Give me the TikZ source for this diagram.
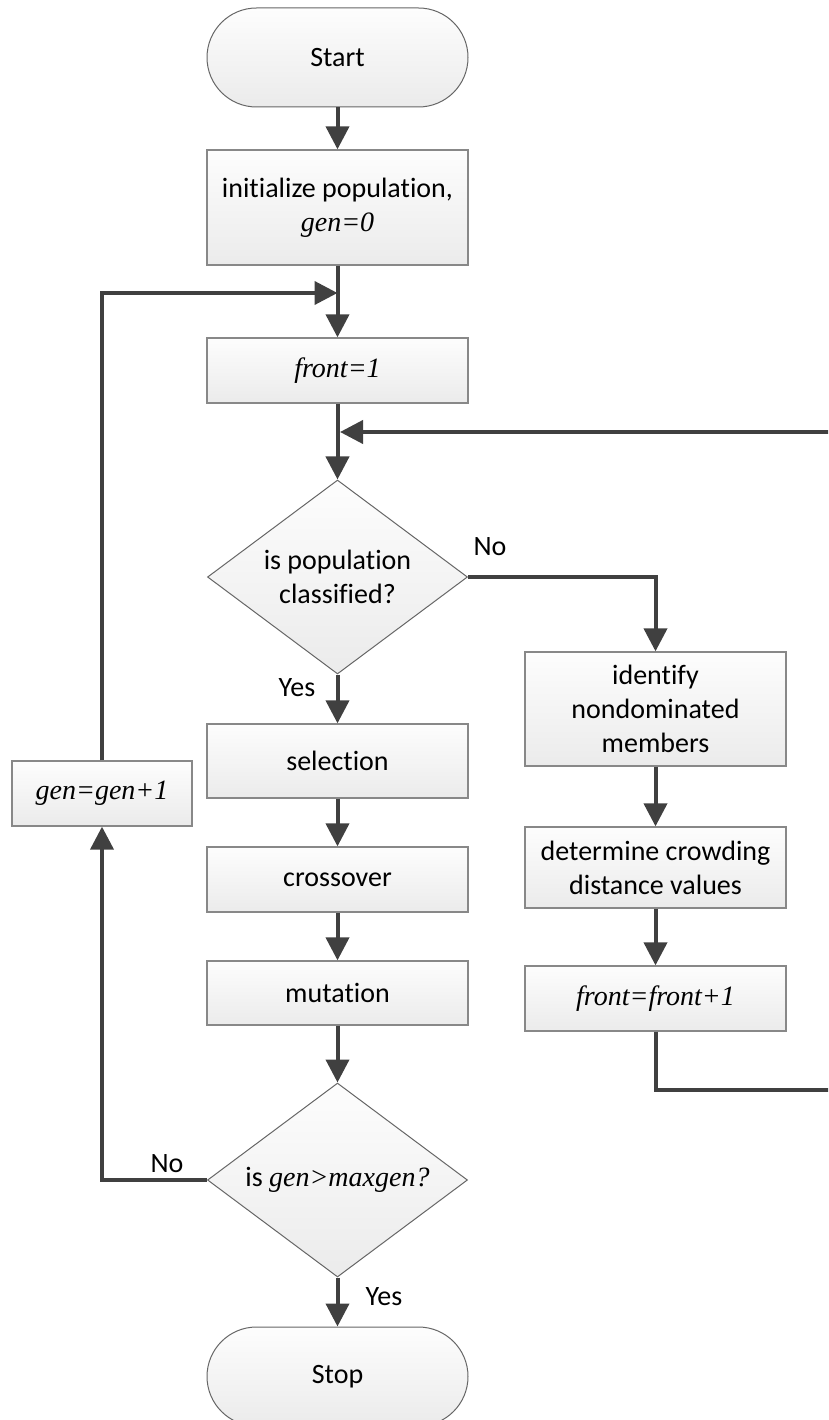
\documentclass[tikz,border=0pt]{standalone}
\usepackage{fontspec}
\setmainfont{Carlito}[Ligatures={NoCommon}]
\newfontfamily\mif{Liberation Serif}
\newcommand{\mv}[1]{{\mif\itshape #1}}
\usetikzlibrary{arrows.meta,shapes.geometric}
\definecolor{linec}{HTML}{404040}
\definecolor{boxb}{HTML}{888888}
\definecolor{termb}{HTML}{666666}
\definecolor{ftop}{HTML}{FDFDFD}
\definecolor{fbot}{HTML}{EBEBEB}
\tikzset{
  txt/.style={font=\fontsize{28}{34}\selectfont, text=black, align=center},
  box/.style={txt, draw=boxb, line width=1.3pt, top color=ftop, bottom color=fbot,
    inner sep=0pt, minimum width=261pt},
  term/.style={txt, draw=termb, line width=1pt, top color=ftop, bottom color=fbot,
    rounded corners=49.5pt, inner sep=0pt, minimum width=261pt, minimum height=99pt},
  dec/.style={txt, diamond, draw=termb, line width=1pt, top color=ftop, bottom color=fbot,
    inner sep=0pt, shape aspect=1.34, minimum width=260pt, minimum height=194pt},
  conn/.style={draw=linec, line width=4pt, -{Triangle[length=23pt,width=23pt]}},
  lab/.style={txt}
}
\begin{document}
\begin{tikzpicture}[x=1pt,y=-1pt]
\useasboundingbox (0,0) rectangle (828,1420);
\clip (0,0) rectangle (828,1420);
% main column
\node[term] (start) at (337.5,57.5) {Start};
\node[box, minimum height=115pt] (init) at (337.5,207.5) {initialize population,\\\mv{gen=0}};
\node[box, minimum height=65pt] (f1) at (337.5,370.5) {\mv{front=1}};
\node[dec] (d1) at (337.5,577) {is population\\classified?};
\node[box, minimum height=74pt] (sel) at (337.5,761) {selection};
\node[box, minimum height=65pt] (cro) at (337.5,879.5) {crossover};
\node[box, minimum height=64pt] (mut) at (337.5,993) {mutation};
\node[dec] (d2) at (337.5,1180) {is \mv{gen>maxgen?}};
\node[term] (stop) at (337.5,1376.5) {Stop};
% left
\node[box, minimum width=180pt, minimum height=65pt] (gen) at (102,793.5) {\mv{gen=gen+1}};
% right column
\node[box, minimum height=114pt] (idn) at (655.5,709) {identify\\nondominated\\members};
\node[box, minimum height=81pt] (det) at (655.5,867.5) {determine crowding\\distance values};
\node[box, minimum height=65pt] (fp) at (655.5,998.5) {\mv{front=front+1}};
% labels
\node[lab] (no1) at (490,547) {No};
\node[lab] (yes1) at (297,688) {Yes};
\node[lab] (no2) at (167,1164) {No};
\node[lab] (yes2) at (384,1297) {Yes};
% coordinates
\coordinate (j1) at (337.5,293);
\coordinate (j2) at (340,432);
\coordinate (c1) at (102,293);
\coordinate (r1) at (850,1090);
\coordinate (r2) at (850,432);
% connectors
\draw[conn] (start) -- (init);
\draw[conn] (init) -- (f1);
\draw[conn] (f1) -- (d1);
\draw[conn] (gen.north) -- (c1) -- (j1);
\draw[conn] (fp.south) |- (r1) -- (r2) -- (j2);
\draw[conn] (d1.east) -| (idn.north);
\draw[conn] (idn) -- (det);
\draw[conn] (det) -- (fp);
\draw[conn] (d1.south) -- (sel.north);
\draw[conn] (sel) -- (cro);
\draw[conn] (cro) -- (mut);
\draw[conn] (mut) -- (d2.north);
\draw[conn] (d2.west) -| (gen.south);
\draw[conn] (d2.south) -- (stop.north);
\end{tikzpicture}
\end{document}
